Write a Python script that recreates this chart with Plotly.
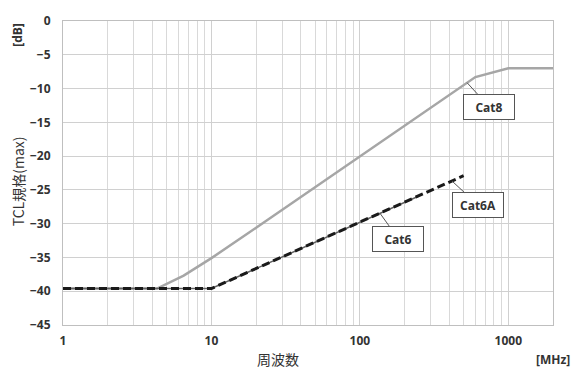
import plotly.graph_objects as go
import numpy as np

# Data (frequency in MHz, TCL limit in dB)
cat8_f = [1, 4.3, 6.5, 10, 20, 600, 1000, 2000]
cat8_db = [-39.6, -39.6, -37.7, -35.1, -30.6, -8.3, -7.0, -7.0]

cat6a_f = [1, 10, 500]
cat6a_db = [-39.6, -39.6, -22.9]

cat6_f = [1, 10, 250]
cat6_db = [-39.6, -39.6, -25.9]

x_ticks = [1, 10, 100, 1000]
x_ticklabels = ["1", "10", "100", "1000"]
y_ticks = [0, -5, -10, -15, -20, -25, -30, -35, -40, -45]

FONT = "Open Sans, Liberation Sans, Arial, sans-serif"
CJK = "Noto Sans CJK JP, sans-serif"
TXT = "#333333"

fig = go.Figure()
fig.add_trace(go.Scatter(x=cat8_f, y=cat8_db, mode="lines", name="Cat8",
                         line=dict(color="#a6a6a6", width=2.5)))
fig.add_trace(go.Scatter(x=cat6_f, y=cat6_db, mode="lines", name="Cat6",
                         line=dict(color="#606060", width=1.5)))
fig.add_trace(go.Scatter(x=cat6a_f, y=cat6a_db, mode="lines", name="Cat6A",
                         line=dict(color="#1a1a1a", width=3, dash="8px,4px")))

minor_vals = [m * 10 ** d for d in range(0, 4) for m in range(2, 10) if m * 10 ** d <= 2000]

fig.update_xaxes(type="log", range=[0, np.log10(2000)],
                 tickvals=x_ticks, ticktext=x_ticklabels,
                 showgrid=True, gridcolor="#d0d0d0", gridwidth=1,
                 minor=dict(tickvals=minor_vals, showgrid=True, gridcolor="#d9d9d9", gridwidth=1, ticks=""),
                 showline=True, linecolor="#bfbfbf", linewidth=1, mirror=True,
                 ticks="", zeroline=False,
                 tickfont=dict(family=FONT, size=12, color=TXT, weight="bold"),
                 ticklabelstandoff=5)
fig.update_yaxes(range=[-45, 0], tickvals=y_ticks,
                 showgrid=True, gridcolor="#d0d0d0", gridwidth=1,
                 showline=True, linecolor="#bfbfbf", linewidth=1, mirror=True,
                 ticks="", zeroline=False,
                 tickfont=dict(family=FONT, size=12, color=TXT, weight="bold"),
                 ticklabelstandoff=9)

annots = [
    dict(text="TCL規格(max)", x=18, y=179, textangle=-90, font=dict(family=CJK, size=14, color=TXT)),
    dict(text="[dB]", x=18, y=30, textangle=-90, font=dict(family=FONT, size=12, color=TXT, weight="bold")),
    dict(text="周波数", x=278, y=360, textangle=0, font=dict(family=CJK, size=14, color=TXT)),
    dict(text="[MHz]", x=553, y=360, textangle=0, font=dict(family=FONT, size=12, color=TXT, weight="bold")),
]
W, H = 575, 372
for a in annots:
    fig.add_annotation(text=a["text"], xref="paper", yref="paper",
                       x=(a["x"] - 63) / (553 - 63), y=(325 - a["y"]) / (325 - 16),
                       xanchor="center", yanchor="middle", showarrow=False,
                       textangle=a["textangle"], font=a["font"])

callouts = [
    ("Cat8", 528, -9.14, 22, 24),
    ("Cat6A", 418, -23.7, 26, 24),
    ("Cat6", 137, -28.5, 18, 25),
]
for txt, fx, fy, ax, ay in callouts:
    fig.add_annotation(text=txt, x=np.log10(fx), y=fy, xref="x", yref="y",
                       ax=ax, ay=ay, axref="pixel", ayref="pixel",
                       showarrow=True, arrowhead=0, arrowwidth=1, arrowcolor="#555555",
                       bgcolor="white", bordercolor="#555555", borderwidth=1, borderpad=2,
                       width=46, height=20,
                       font=dict(family=FONT, size=12, color=TXT, weight="bold"))

fig.update_layout(width=W, height=H, margin=dict(l=63, r=22, t=16, b=47),
                  plot_bgcolor="white", paper_bgcolor="white", showlegend=False)

fig.write_html("out.html", config={"displayModeBar": False},
               post_script="document.body.style.margin='0';document.body.style.padding='0';")
